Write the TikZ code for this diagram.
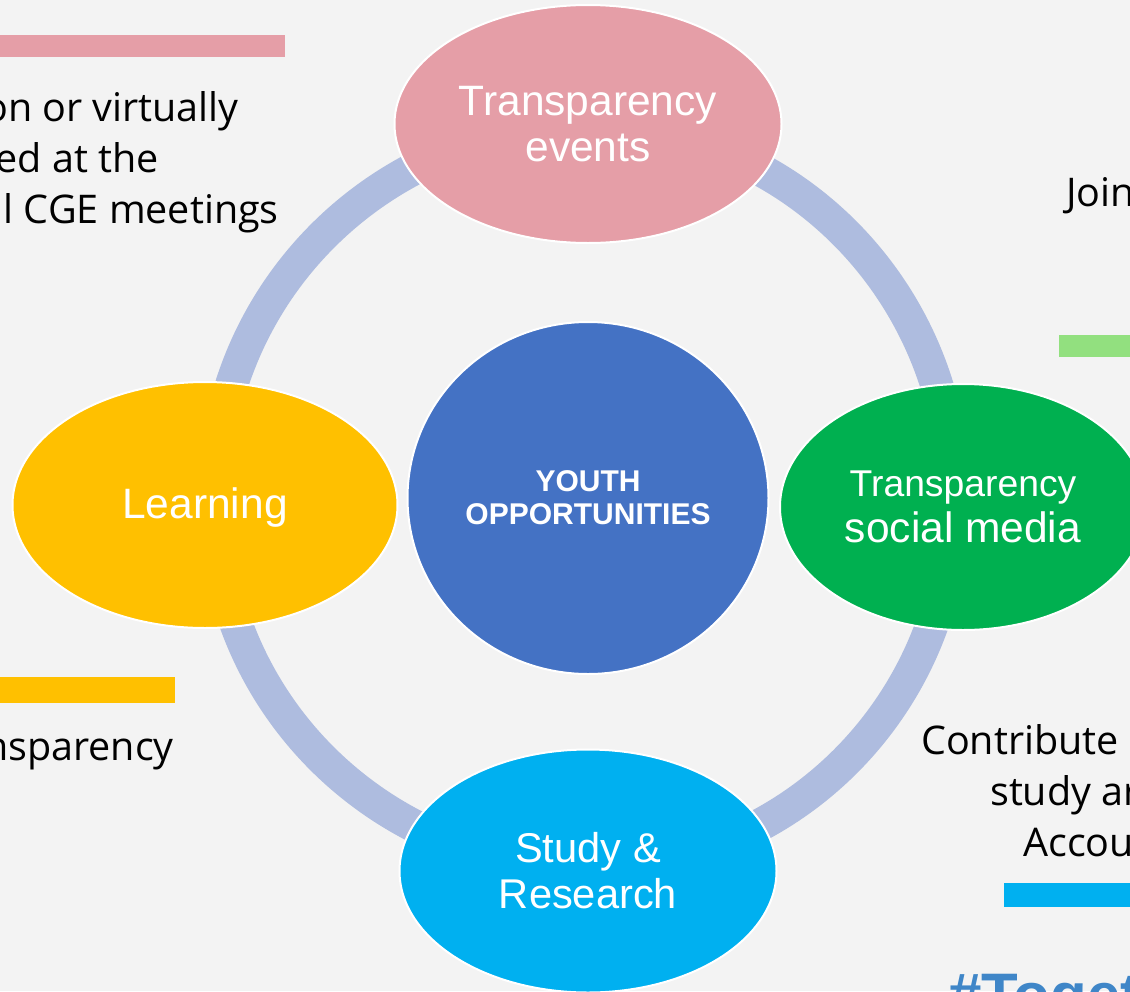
\documentclass[tikz,border=0pt]{standalone}
\usepackage{fontspec}
\setmainfont{Liberation Sans}
\newfontfamily\bodyfont{Open Sans}
\usetikzlibrary{shapes.geometric,backgrounds}
\definecolor{pagebg}{HTML}{F3F3F3}
\definecolor{ringc}{HTML}{AEBCDF}
\definecolor{pinkc}{HTML}{E59EA7}
\definecolor{greenc}{HTML}{00B050}
\definecolor{lgreen}{HTML}{92E07F}
\definecolor{bluec}{HTML}{4472C4}
\definecolor{yellowc}{HTML}{FFC000}
\definecolor{cyanc}{HTML}{00B0F0}
\definecolor{tagc}{HTML}{3F86C8}
\tikzset{
  petal/.style={ellipse,draw=white,line width=2pt,inner sep=0pt,text=white,align=center,
    font=\fontsize{42.5}{46}\selectfont},
  ringarc/.style={draw=ringc,line width=33pt},
  bar/.style={draw=none,inner sep=0pt},
  side/.style={inner sep=0pt,text=black,font=\bodyfont\fontsize{39.5}{40}\selectfont},
}
\begin{document}
\begin{tikzpicture}[x=1pt,y=-1pt]
\useasboundingbox (0,0) rectangle (1130,991);
\clip (0,0) rectangle (1130,991);
\node[petal,fill=pinkc,minimum width=387pt,minimum height=238pt] (top) at (588,124) {Transparency\\events};
\node[petal,fill=yellowc,minimum width=385pt,minimum height=246pt] (left) at (205,505) {\raisebox{-13pt}[0pt][0pt]{Learning}};
\node[petal,fill=greenc,minimum width=366pt,minimum height=246pt] (right) at (963,507)
  {{\fontsize{37.3}{46}\selectfont Transparency}\\social media};
\node[petal,fill=cyanc,minimum width=377pt,minimum height=243pt,font=\fontsize{41.6}{46}\selectfont] (bottom) at (588,871) {Study \&\\Research};
\node[ellipse,draw=white,line width=2pt,fill=bluec,inner sep=0pt,minimum width=361pt,minimum height=352pt,
  text=white,align=center,font=\bfseries\fontsize{30}{33}\selectfont] (hub) at (588,498) {YOUTH\\OPPORTUNITIES};
\begin{scope}[on background layer]
  \fill[pagebg] (0,0) rectangle (1130,991);
  \draw[ringarc] ([shift={(0,2)}]top.center) to[out=180,in=90] ([shift={(9,-7)}]left.center);
  \draw[ringarc] ([shift={(9,-7)}]left.center) to[out=-90,in=180] ([shift={(0,-3)}]bottom.center);
  \draw[ringarc] ([shift={(0,-3)}]bottom.center) to[out=0,in=-90] ([shift={(-9,-9)}]right.center);
  \draw[ringarc] ([shift={(-9,-9)}]right.center) to[out=90,in=0] ([shift={(0,2)}]top.center);
\end{scope}
\node[bar,fill=pinkc,minimum width=285pt,minimum height=22pt,anchor=north west] (barpink) at (0,35) {};
\node[bar,fill=lgreen,minimum width=71pt,minimum height=22pt,anchor=north west] (bargreen) at (1059,335) {};
\node[bar,fill=yellowc,minimum width=175pt,minimum height=26pt,anchor=north west] (baryellow) at (0,677) {};
\node[bar,fill=cyanc,minimum width=126pt,minimum height=24pt,anchor=north west] (barblue) at (1004,883) {};
\node[side,anchor=base east] (t1) at (239,121) {on or virtually};
\node[side,anchor=base east] (t2) at (159,172) {ed at the};
\node[side,anchor=base east] (t3) at (279,223) {l CGE meetings};
\node[side,anchor=base west] (t4) at (1066,206) {Join};
\node[side,anchor=base east] (t5) at (174,760) {nsparency};
\node[side,anchor=base west] (t6) at (921,754) {Contribute};
\node[side,anchor=base west] (t7) at (990,805) {study ar};
\node[side,anchor=base west] (t8) at (1023,856) {Accou};
\node[inner sep=0pt,anchor=base west,text=tagc,font=\bfseries\fontsize{60}{60}\selectfont] (tag) at (948,1015) {\#Toget};
\end{tikzpicture}
\end{document}
